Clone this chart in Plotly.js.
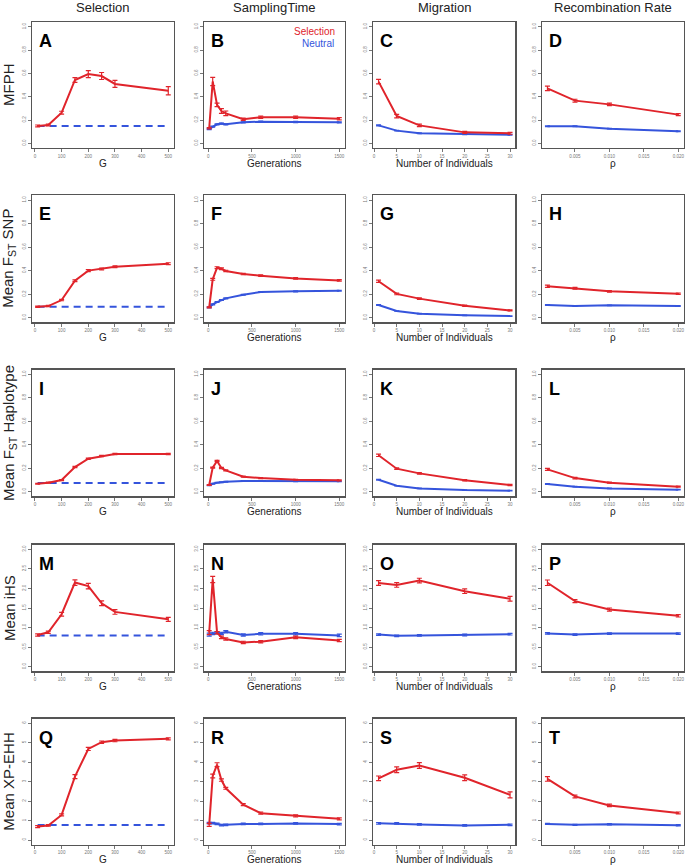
<!DOCTYPE html>
<html>
<head>
<meta charset="utf-8">
<script src="https://cdn.plot.ly/plotly-3.0.1.min.js"></script>
<style>html,body{margin:0;padding:0;background:#fff;}#chart{width:685px;height:867px;}</style>
</head>
<body>
<div id="chart"></div>
<script>
// ---------- x values ----------
const xSel = [10, 50, 100, 150, 200, 250, 300, 500];
const xSelNeutral = [10, 500];
const xTime = [10, 50, 100, 150, 200, 400, 600, 1000, 1500];
const xMig = [1, 5, 10, 20, 30];
const xRec = [0.001, 0.005, 0.010, 0.020];

// ---------- labels ----------
const colTitles = ["Selection", "SamplingTime", "Migration", "Recombination Rate"];
const rowTitles = ["MFPH", "Mean F<sub>ST</sub> SNP", "Mean F<sub>ST</sub> Haplotype", "Mean iHS", "Mean XP-EHH"];
const xTitles = ["G", "Generations", "Number of Individuals", "\u03c1"];
const panelLetters = ["A","B","C","D","E","F","G","H","I","J","K","L","M","N","O","P","Q","R","S","T"];
const xTickVals = [[0,100,200,300,400,500],[0,500,1000,1500],[0,5,10,15,20,25,30],[0.005,0.010,0.015,0.020]];
const xTickText = [["0","100","200","300","400","500"],["0","500","1000","1500"],["0","5","10","15","20","25","30"],["0.005","0.010","0.015","0.020"]];
const yTickVals01 = [0,0.2,0.4,0.6,0.8,1.0];
const yTickText01 = ["0.0","0.2","0.4","0.6","0.8","1.0"];
const yTickVals3 = [0,0.5,1.0,1.5,2.0,2.5,3.0];
const yTickText3 = ["0.0","0.5","1.0","1.5","2.0","2.5","3.0"];
const yTickVals6 = [0,1,2,3,4,5,6];
const yTickText6 = ["0","1","2","3","4","5","6"];
const legendLabels = ["Selection", "Neutral"];

// ---------- Row 1: MFPH ----------
const selA = [0.149, 0.157, 0.263, 0.543, 0.594, 0.577, 0.509, 0.451];
const selAErr = [0.008, 0.008, 0.012, 0.02, 0.03, 0.03, 0.03, 0.035];
const neuA = [0.149, 0.149];
const selB = [0.129, 0.53, 0.33, 0.277, 0.257, 0.206, 0.223, 0.223, 0.211];
const selBErr = [0.006, 0.035, 0.015, 0.02, 0.02, 0.01, 0.01, 0.01, 0.01];
const neuB = [0.123, 0.143, 0.163, 0.169, 0.163, 0.18, 0.186, 0.183, 0.18];
const neuBErr = [0.005, 0.005, 0.005, 0.005, 0.005, 0.005, 0.005, 0.005, 0.005];
const selC = [0.529, 0.234, 0.154, 0.094, 0.086];
const selCErr = [0.02, 0.015, 0.01, 0.008, 0.008];
const neuC = [0.154, 0.109, 0.086, 0.077, 0.074];
const neuCErr = [0.004, 0.003, 0.003, 0.003, 0.003];
const selD = [0.471, 0.366, 0.334, 0.246];
const selDErr = [0.02, 0.012, 0.01, 0.008];
const neuD = [0.146, 0.146, 0.126, 0.103];
const neuDErr = [0.004, 0.004, 0.003, 0.003];

// ---------- Row 2: Mean FST SNP ----------
const selE = [0.093, 0.099, 0.15, 0.314, 0.40, 0.414, 0.433, 0.459];
const selEErr = [0.006, 0.006, 0.006, 0.008, 0.008, 0.008, 0.008, 0.008];
const neuE = [0.093, 0.093];
const selF = [0.088, 0.326, 0.425, 0.416, 0.397, 0.371, 0.357, 0.334, 0.317];
const selFErr = [0.005, 0.008, 0.008, 0.008, 0.006, 0.006, 0.006, 0.006, 0.006];
const neuF = [0.088, 0.113, 0.133, 0.15, 0.164, 0.195, 0.218, 0.224, 0.229];
const neuFErr = [0.004, 0.004, 0.004, 0.004, 0.004, 0.004, 0.004, 0.004, 0.004];
const selG = [0.31, 0.202, 0.162, 0.102, 0.062];
const selGErr = [0.01, 0.007, 0.006, 0.006, 0.005];
const neuG = [0.108, 0.057, 0.034, 0.02, 0.014];
const neuGErr = [0.003, 0.002, 0.002, 0.002, 0.002];
const selH = [0.267, 0.25, 0.224, 0.204];
const selHErr = [0.01, 0.008, 0.007, 0.006];
const neuH = [0.108, 0.099, 0.105, 0.099];
const neuHErr = [0.003, 0.003, 0.003, 0.003];

// ---------- Row 3: Mean FST Haplotype ----------
const selI = [0.068, 0.077, 0.099, 0.21, 0.281, 0.304, 0.321, 0.321];
const selIErr = [0.004, 0.004, 0.004, 0.005, 0.005, 0.005, 0.005, 0.005];
const neuI = [0.074, 0.074];
const selJ = [0.057, 0.205, 0.261, 0.202, 0.182, 0.128, 0.116, 0.102, 0.097];
const selJErr = [0.004, 0.005, 0.005, 0.005, 0.005, 0.004, 0.004, 0.004, 0.004];
const neuJ = [0.054, 0.068, 0.077, 0.081, 0.085, 0.091, 0.091, 0.088, 0.088];
const neuJErr = [0.003, 0.003, 0.003, 0.003, 0.003, 0.003, 0.003, 0.003, 0.003];
const selK = [0.31, 0.196, 0.156, 0.097, 0.057];
const selKErr = [0.01, 0.007, 0.006, 0.006, 0.005];
const neuK = [0.102, 0.051, 0.028, 0.014, 0.009];
const neuKErr = [0.003, 0.002, 0.002, 0.002, 0.002];
const selL = [0.19, 0.116, 0.077, 0.043];
const selLErr = [0.009, 0.006, 0.005, 0.004];
const neuL = [0.065, 0.043, 0.028, 0.017];
const neuLErr = [0.003, 0.002, 0.002, 0.002];

// ---------- Row 4: Mean iHS ----------
const selM = [0.81, 0.88, 1.34, 2.15, 2.06, 1.62, 1.40, 1.21];
const selMErr = [0.03, 0.03, 0.05, 0.07, 0.07, 0.06, 0.06, 0.05];
const neuM = [0.80, 0.80];
const selN = [0.87, 2.23, 0.87, 0.75, 0.71, 0.62, 0.64, 0.75, 0.67];
const selNErr = [0.05, 0.08, 0.03, 0.03, 0.03, 0.03, 0.03, 0.03, 0.03];
const neuN = [0.82, 0.85, 0.87, 0.85, 0.895, 0.81, 0.84, 0.84, 0.80];
const neuNErr = [0.04, 0.03, 0.03, 0.03, 0.03, 0.03, 0.03, 0.03, 0.03];
const selO = [2.14, 2.09, 2.20, 1.93, 1.735];
const selOErr = [0.06, 0.06, 0.06, 0.06, 0.06];
const neuO = [0.82, 0.79, 0.80, 0.81, 0.83];
const neuOErr = [0.02, 0.02, 0.02, 0.02, 0.02];
const selP = [2.145, 1.675, 1.46, 1.30];
const selPErr = [0.07, 0.04, 0.04, 0.03];
const neuP = [0.85, 0.82, 0.846, 0.846];
const neuPErr = [0.02, 0.02, 0.02, 0.02];

// ---------- Row 5: Mean XP-EHH ----------
const selQ = [0.69, 0.75, 1.29, 3.26, 4.68, 5.03, 5.11, 5.20];
const selQErr = [0.05, 0.04, 0.05, 0.1, 0.08, 0.06, 0.06, 0.05];
const neuQ = [0.77, 0.77];
const selR = [0.78, 3.29, 3.87, 3.08, 2.66, 1.82, 1.38, 1.24, 1.09];
const selRErr = [0.08, 0.1, 0.1, 0.06, 0.05, 0.05, 0.05, 0.05, 0.05];
const neuR = [0.87, 0.87, 0.83, 0.77, 0.78, 0.83, 0.83, 0.85, 0.82];
const neuRErr = [0.04, 0.04, 0.04, 0.04, 0.04, 0.04, 0.04, 0.04, 0.04];
const selS = [3.17, 3.61, 3.83, 3.20, 2.32];
const selSErr = [0.12, 0.15, 0.15, 0.15, 0.15];
const neuS = [0.86, 0.85, 0.80, 0.75, 0.78];
const neuSErr = [0.04, 0.04, 0.04, 0.04, 0.04];
const selT = [3.14, 2.24, 1.78, 1.39];
const selTErr = [0.12, 0.07, 0.06, 0.05];
const neuT = [0.83, 0.78, 0.81, 0.76];
const neuTErr = [0.03, 0.03, 0.03, 0.03];

// ---------- assembly ----------
const RED = '#e0242b';
const BLUE = '#3554dc';
const W = 685, H = 867;
const X = p => p / W;
const Y = p => 1 - p / H;

const colPx = [[32.4, 173.5], [204, 344.5], [373.3, 515.3], [542.2, 683.5]];
const rowPx = [[22, 148], [195.3, 322.4], [369.6, 496.4], [544.6, 671.4], [718.6, 844.7]];
const colX = [xSel, xTime, xMig, xRec];
const xRanges = [[-9.6, 519.6], [-49.6, 1559.6], [-0.16, 31.16], [0.00024, 0.02076]];
const yRanges = [[-0.04, 1.04], [-0.04, 1.04], [-0.04, 1.04], [-0.12, 3.12], [-0.24, 6.24]];
const yTV = [yTickVals01, yTickVals01, yTickVals01, yTickVals3, yTickVals6];
const yTT = [yTickText01, yTickText01, yTickText01, yTickText3, yTickText6];

const panels = [
  [[selA, selAErr, neuA, null], [selB, selBErr, neuB, neuBErr], [selC, selCErr, neuC, neuCErr], [selD, selDErr, neuD, neuDErr]],
  [[selE, selEErr, neuE, null], [selF, selFErr, neuF, neuFErr], [selG, selGErr, neuG, neuGErr], [selH, selHErr, neuH, neuHErr]],
  [[selI, selIErr, neuI, null], [selJ, selJErr, neuJ, neuJErr], [selK, selKErr, neuK, neuKErr], [selL, selLErr, neuL, neuLErr]],
  [[selM, selMErr, neuM, null], [selN, selNErr, neuN, neuNErr], [selO, selOErr, neuO, neuOErr], [selP, selPErr, neuP, neuPErr]],
  [[selQ, selQErr, neuQ, null], [selR, selRErr, neuR, neuRErr], [selS, selSErr, neuS, neuSErr], [selT, selTErr, neuT, neuTErr]]
];

const traces = [];
const layout = {
  width: W, height: H,
  margin: {l: 0, r: 0, t: 0, b: 0},
  paper_bgcolor: '#fff', plot_bgcolor: '#fff',
  showlegend: false,
  font: {family: 'Liberation Sans, Arial, sans-serif', color: '#222'},
  annotations: []
};

const tickFont = {size: 4.5, color: '#777', family: 'Liberation Sans, Arial, sans-serif'};

for (let r = 0; r < 5; r++) {
  for (let c = 0; c < 4; c++) {
    const idx = r * 4 + c + 1;
    const xa = 'x' + (idx === 1 ? '' : idx);
    const ya = 'y' + (idx === 1 ? '' : idx);
    const [sel, selErr, neu, neuErr] = panels[r][c];
    const xs = colX[c];
    if (c === 0) {
      traces.push({x: xSelNeutral, y: neu, xaxis: xa, yaxis: ya, mode: 'lines', type: 'scatter',
        line: {color: BLUE, width: 2, dash: '7px,5px'}, hoverinfo: 'skip'});
    } else {
      traces.push({x: xs, y: neu, xaxis: xa, yaxis: ya, mode: 'lines', type: 'scatter',
        line: {color: BLUE, width: 2},
        error_y: {type: 'data', array: neuErr, visible: true, color: BLUE, thickness: 1.2, width: 2.5}});
    }
    traces.push({x: xs, y: sel, xaxis: xa, yaxis: ya, mode: 'lines', type: 'scatter',
      line: {color: RED, width: 2},
      error_y: {type: 'data', array: selErr, visible: true, color: RED, thickness: 1.2, width: 2.5}});

    const axKeyX = 'xaxis' + (idx === 1 ? '' : idx);
    const axKeyY = 'yaxis' + (idx === 1 ? '' : idx);
    layout[axKeyX] = {
      domain: [X(colPx[c][0]), X(colPx[c][1])], anchor: ya, range: xRanges[c],
      showgrid: false, zeroline: false, showline: true, mirror: true, linecolor: '#555', linewidth: 1.3,
      ticks: 'outside', ticklen: 3, tickwidth: 0.8, tickcolor: '#555',
      tickvals: xTickVals[c], ticktext: xTickText[c], tickfont: tickFont, tickangle: 0
    };
    layout[axKeyY] = {
      domain: [Y(rowPx[r][1]), Y(rowPx[r][0])], anchor: xa, range: yRanges[r],
      showgrid: false, zeroline: false, showline: true, mirror: true, linecolor: '#555', linewidth: 1.3,
      ticks: 'outside', ticklen: 3, tickwidth: 0.8, tickcolor: '#555',
      tickvals: yTV[r], ticktext: yTT[r], tickfont: tickFont, tickangle: -90
    };
    layout.annotations.push({xref: 'paper', yref: 'paper', x: X(colPx[c][0] + 5), y: Y(rowPx[r][0] + 7),
      xanchor: 'left', yanchor: 'top', showarrow: false, text: '<b>' + panelLetters[idx - 1] + '</b>',
      font: {size: 18, color: '#000', family: 'Liberation Sans, Arial, sans-serif'}});
    layout.annotations.push({xref: 'paper', yref: 'paper', x: X((colPx[c][0] + colPx[c][1]) / 2), y: Y(rowPx[r][1] + 15),
      xanchor: 'center', yanchor: 'middle', showarrow: false, text: xTitles[c],
      font: {size: 10, color: '#222'}});
  }
  layout.annotations.push({xref: 'paper', yref: 'paper', x: X(9), y: Y((rowPx[r][0] + rowPx[r][1]) / 2),
    xanchor: 'center', yanchor: 'middle', showarrow: false, textangle: -90, text: rowTitles[r],
    font: {size: 15, color: '#222'}});
}
for (let c = 0; c < 4; c++) {
  layout.annotations.push({xref: 'paper', yref: 'paper', x: X((colPx[c][0] + colPx[c][1]) / 2), y: Y(8),
    xanchor: 'center', yanchor: 'middle', showarrow: false, text: colTitles[c],
    font: {size: 13, color: '#222'}});
}
layout.annotations.push({xref: 'paper', yref: 'paper', x: X(337), y: Y(32), xanchor: 'right', yanchor: 'middle',
  showarrow: false, text: legendLabels[0], font: {size: 10, color: RED}});
layout.annotations.push({xref: 'paper', yref: 'paper', x: X(300), y: Y(43), xanchor: 'left', yanchor: 'middle',
  showarrow: false, text: legendLabels[1], font: {size: 10, color: BLUE}});

Plotly.newPlot('chart', traces, layout, {staticPlot: true, displayModeBar: false});
</script>
</body>
</html>
